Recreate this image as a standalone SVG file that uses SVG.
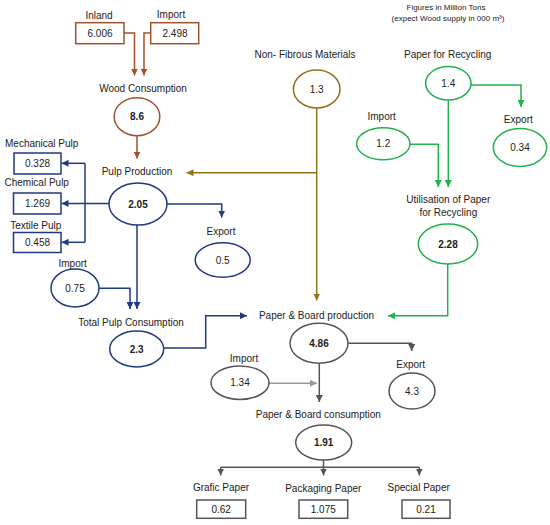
<svg xmlns="http://www.w3.org/2000/svg" width="550" height="525" viewBox="0 0 550 525">
<style>
text{font-family:"Liberation Sans","Open Sans",Arial,sans-serif;font-size:10px;fill:#222;text-anchor:middle}
.b{font-weight:bold}
.sm{font-size:8px}
.sh{fill:#fff;stroke-width:1.5}
.wood{stroke:#A0522D}
.nf{stroke:#94701A}
.navy{stroke:#1F3A82}
.grn{stroke:#22B14C}
.gry{stroke:#555}
.lg{stroke:#999}
.c{fill:none;stroke-width:1.5}
</style>
<defs>
<marker id="aw" markerUnits="userSpaceOnUse" markerWidth="7" markerHeight="7" viewBox="0 0 7 7" refX="7" refY="3.5" orient="auto"><path d="M0,0 L7,3.5 L0,7z" fill="#A0522D"/></marker>
<marker id="an" markerUnits="userSpaceOnUse" markerWidth="7" markerHeight="7" viewBox="0 0 7 7" refX="7" refY="3.5" orient="auto"><path d="M0,0 L7,3.5 L0,7z" fill="#94701A"/></marker>
<marker id="ab" markerUnits="userSpaceOnUse" markerWidth="7" markerHeight="7" viewBox="0 0 7 7" refX="7" refY="3.5" orient="auto"><path d="M0,0 L7,3.5 L0,7z" fill="#1F3A82"/></marker>
<marker id="ag" markerUnits="userSpaceOnUse" markerWidth="7" markerHeight="7" viewBox="0 0 7 7" refX="7" refY="3.5" orient="auto"><path d="M0,0 L7,3.5 L0,7z" fill="#22B14C"/></marker>
<marker id="ad" markerUnits="userSpaceOnUse" markerWidth="7" markerHeight="7" viewBox="0 0 7 7" refX="7" refY="3.5" orient="auto"><path d="M0,0 L7,3.5 L0,7z" fill="#555"/></marker>
<marker id="al" markerUnits="userSpaceOnUse" markerWidth="7" markerHeight="7" viewBox="0 0 7 7" refX="7" refY="3.5" orient="auto"><path d="M0,0 L7,3.5 L0,7z" fill="#999"/></marker>
</defs>

<g id="note">
<text class="sm" x="446" y="9.5">Figures in Million Tons</text>
<text class="sm" x="448" y="21">(expect Wood supply in 000 m³)</text>
</g>

<g id="connectors">
<path class="c wood" d="M124,33 H134.5 V75.5" marker-end="url(#aw)"/>
<path class="c wood" d="M150.5,33 H144 V75.5" marker-end="url(#aw)"/>
<path class="c wood" d="M137,135.5 V158.5" marker-end="url(#aw)"/>
<path class="c nf" d="M316.7,108 V300.5" marker-end="url(#an)"/>
<path class="c nf" d="M316.7,172.7 H186.5" marker-end="url(#an)"/>
<path class="c navy" d="M109,203.5 H61.5" marker-end="url(#ab)"/>
<path class="c navy" d="M85,163.3 V242.3"/>
<path class="c navy" d="M85,163.3 H61.5" marker-end="url(#ab)"/>
<path class="c navy" d="M85,242.3 H61.5" marker-end="url(#ab)"/>
<path class="c navy" d="M167,204 H221.7 V217.5" marker-end="url(#ab)"/>
<path class="c navy" d="M137,225 V309" marker-end="url(#ab)"/>
<path class="c navy" d="M99,288.3 H130 V309" marker-end="url(#ab)"/>
<path class="c navy" d="M163.7,348 H205.7 V315.7 H247" marker-end="url(#ab)"/>
<path class="c grn" d="M471,85 H521 V107" marker-end="url(#ag)"/>
<path class="c grn" d="M410,144.3 H438.3 V187" marker-end="url(#ag)"/>
<path class="c grn" d="M448.3,100 V187" marker-end="url(#ag)"/>
<path class="c grn" d="M447.7,264 V315.7 H388" marker-end="url(#ag)"/>
<path class="c gry" d="M348,343.3 H411.7 V351" marker-end="url(#ad)"/>
<path class="c gry" d="M319.3,363 V402" marker-end="url(#ad)"/>
<path class="c lg" d="M269,383.3 H317" marker-end="url(#al)"/>
<path class="c gry" d="M323.5,460 V467.3 M220.7,467.3 H419.3"/>
<path class="c gry" d="M220.7,467.3 V475.5" marker-end="url(#ad)"/>
<path class="c gry" d="M323.5,467.3 V475.5" marker-end="url(#ad)"/>
<path class="c gry" d="M419.3,467.3 V475.5" marker-end="url(#ad)"/>
</g>

<g id="inland"><text x="99" y="18.5">Inland</text><rect class="sh wood" x="75.7" y="22.7" width="48.3" height="21"/><text x="100" y="37">6.006</text></g>
<g id="import-wood"><text x="171" y="17.5">Import</text><rect class="sh wood" x="150.7" y="22.7" width="48" height="21"/><text x="175" y="37">2.498</text></g>
<g id="wood-consumption"><text x="143" y="91.5">Wood Consumption</text><ellipse class="sh wood" cx="137" cy="116.7" rx="22.8" ry="19"/><text class="b" x="137" y="120.3">8.6</text></g>

<g id="non-fibrous"><text x="305" y="57.5">Non- Fibrous Materials</text><ellipse class="sh nf" cx="316.7" cy="89" rx="23.3" ry="19"/><text x="316.7" y="92.5">1.3</text></g>

<g id="paper-recycling"><text x="447.7" y="57.5">Paper for Recycling</text><ellipse class="sh grn" cx="448.3" cy="83.3" rx="22.7" ry="16.7"/><text x="448.3" y="86.8">1.4</text></g>
<g id="export-recycling"><text x="518.3" y="122.5">Export</text><ellipse class="sh grn" cx="520" cy="147.5" rx="26.7" ry="19"/><text x="520" y="151">0.34</text></g>
<g id="import-recycling"><text x="381.7" y="120">Import</text><ellipse class="sh grn" cx="383.3" cy="143.8" rx="26.7" ry="16"/><text x="383.3" y="147.3">1.2</text></g>
<g id="utilisation"><text x="448.3" y="202.5">Utilisation of Paper</text><text x="448.3" y="216">for Recycling</text><ellipse class="sh grn" cx="448" cy="244" rx="29.7" ry="20"/><text class="b" x="448" y="247.5">2.28</text></g>

<g id="pulp-production"><text x="137" y="174.5">Pulp Production</text><ellipse class="sh navy" cx="138" cy="204" rx="29" ry="21"/><text class="b" x="138" y="207.5">2.05</text></g>
<g id="mechanical"><text x="41.7" y="146.5">Mechanical Pulp</text><rect class="sh navy" x="14" y="153" width="47" height="21"/><text x="37.5" y="167">0.328</text></g>
<g id="chemical"><text x="36.7" y="186">Chemical Pulp</text><rect class="sh navy" x="13.5" y="193" width="47.5" height="21"/><text x="37.5" y="207">1.269</text></g>
<g id="textile"><text x="35.7" y="228.5">Textile Pulp</text><rect class="sh navy" x="13.5" y="232.5" width="47.5" height="20"/><text x="37.5" y="246">0.458</text></g>
<g id="export-pulp"><text x="221" y="234.5">Export</text><ellipse class="sh navy" cx="222.7" cy="260" rx="27.5" ry="17.3"/><text x="222.7" y="263.5">0.5</text></g>
<g id="import-pulp"><text x="72.7" y="266.5">Import</text><ellipse class="sh navy" cx="75" cy="288" rx="24" ry="19"/><text x="75" y="291.5">0.75</text></g>
<g id="total-pulp"><text x="131" y="325.5">Total Pulp Consumption</text><ellipse class="sh navy" cx="136.7" cy="349" rx="27" ry="18"/><text class="b" x="136.7" y="352.5">2.3</text></g>

<g id="pb-production"><text x="316.5" y="319">Paper &amp; Board production</text><ellipse class="sh gry" cx="319" cy="343.3" rx="29" ry="20"/><text class="b" x="319" y="346.8">4.86</text></g>
<g id="export-pb"><text x="410.7" y="367.5">Export</text><ellipse class="sh gry" cx="412" cy="391" rx="23" ry="18"/><text x="412" y="394.5">4.3</text></g>
<g id="import-pb"><text x="244" y="362">Import</text><ellipse class="sh gry" cx="240" cy="382.7" rx="29" ry="16.7"/><text x="240" y="386.2">1.34</text></g>
<g id="pb-consumption"><text x="318.3" y="417.8">Paper &amp; Board consumption</text><ellipse class="sh gry" cx="323.7" cy="442.5" rx="28" ry="17.5"/><text class="b" x="323.7" y="446">1.91</text></g>
<g id="grafic"><text x="221" y="490.8">Grafic Paper</text><rect class="sh gry" x="196.7" y="500" width="49" height="18.3"/><text x="221.2" y="512.7">0.62</text></g>
<g id="packaging"><text x="323.3" y="492.2">Packaging Paper</text><rect class="sh gry" x="299" y="500" width="48.7" height="18.3"/><text x="323.3" y="512.7">1.075</text></g>
<g id="special"><text x="418.7" y="490.8">Special Paper</text><rect class="sh gry" x="402" y="500" width="48" height="18.3"/><text x="426" y="512.7">0.21</text></g>
</svg>
